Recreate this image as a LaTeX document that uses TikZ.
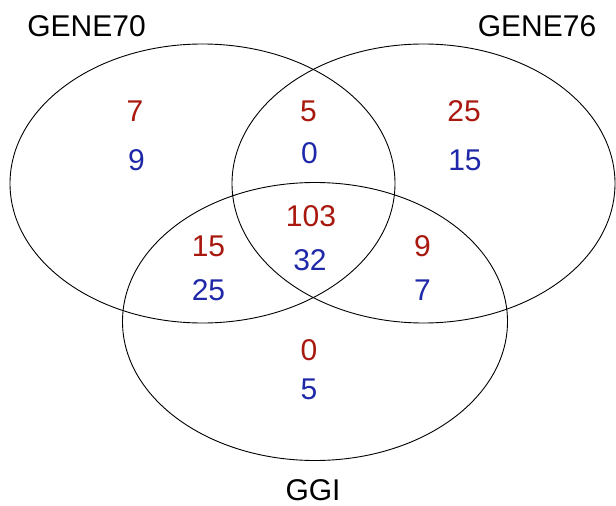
\documentclass[tikz,border=0pt]{standalone}
\usepackage{fontspec}
\setmainfont{Liberation Sans}
\definecolor{cntred}{RGB}{168,24,14}
\definecolor{cntblue}{RGB}{30,40,168}
\begin{document}
\begin{tikzpicture}[x=1pt,y=-1pt,font=\fontsize{30}{34}\selectfont,
	nodes={inner sep=0pt},
	setline/.style={line width=0.9pt},
	redn/.style={text=cntred},
	bluen/.style={text=cntblue}]
			\useasboundingbox (0,0) rectangle (616,506);
			\draw[setline] (202.5,183.5) ellipse [x radius=192.5, y radius=139.5];
			\draw[setline] (423.5,183.5) ellipse [x radius=191.5, y radius=139.5];
			\draw[setline] (315,321.5) ellipse [x radius=192.5, y radius=139];
			\node (g70) at (86.5,26.5) {GENE70};
			\node (g76) at (537,26.5) {GENE76};
			\node (ggi) at (313,490) {GGI};
			\node (a1) [redn] at (135,111.5) {7};
			\node (a2) [bluen] at (136.5,160) {9};
			\node (ab1) [redn] at (308.5,111.5) {5};
			\node (ab2) [bluen] at (309.5,153.5) {0};
			\node (b1) [redn] at (464,111.5) {25};
			\node (b2) [bluen] at (465,160) {15};
			\node (abc1) [redn] at (311,216) {103};
			\node (abc2) [bluen] at (310,260) {32};
			\node (ac1) [redn] at (208.5,246.5) {15};
			\node (ac2) [bluen] at (208.5,290) {25};
			\node (bc1) [redn] at (422.5,246.5) {9};
			\node (bc2) [bluen] at (422.5,290) {7};
			\node (c1) [redn] at (309,350) {0};
			\node (c2) [bluen] at (309,389) {5};
		\end{tikzpicture}
\end{document}
